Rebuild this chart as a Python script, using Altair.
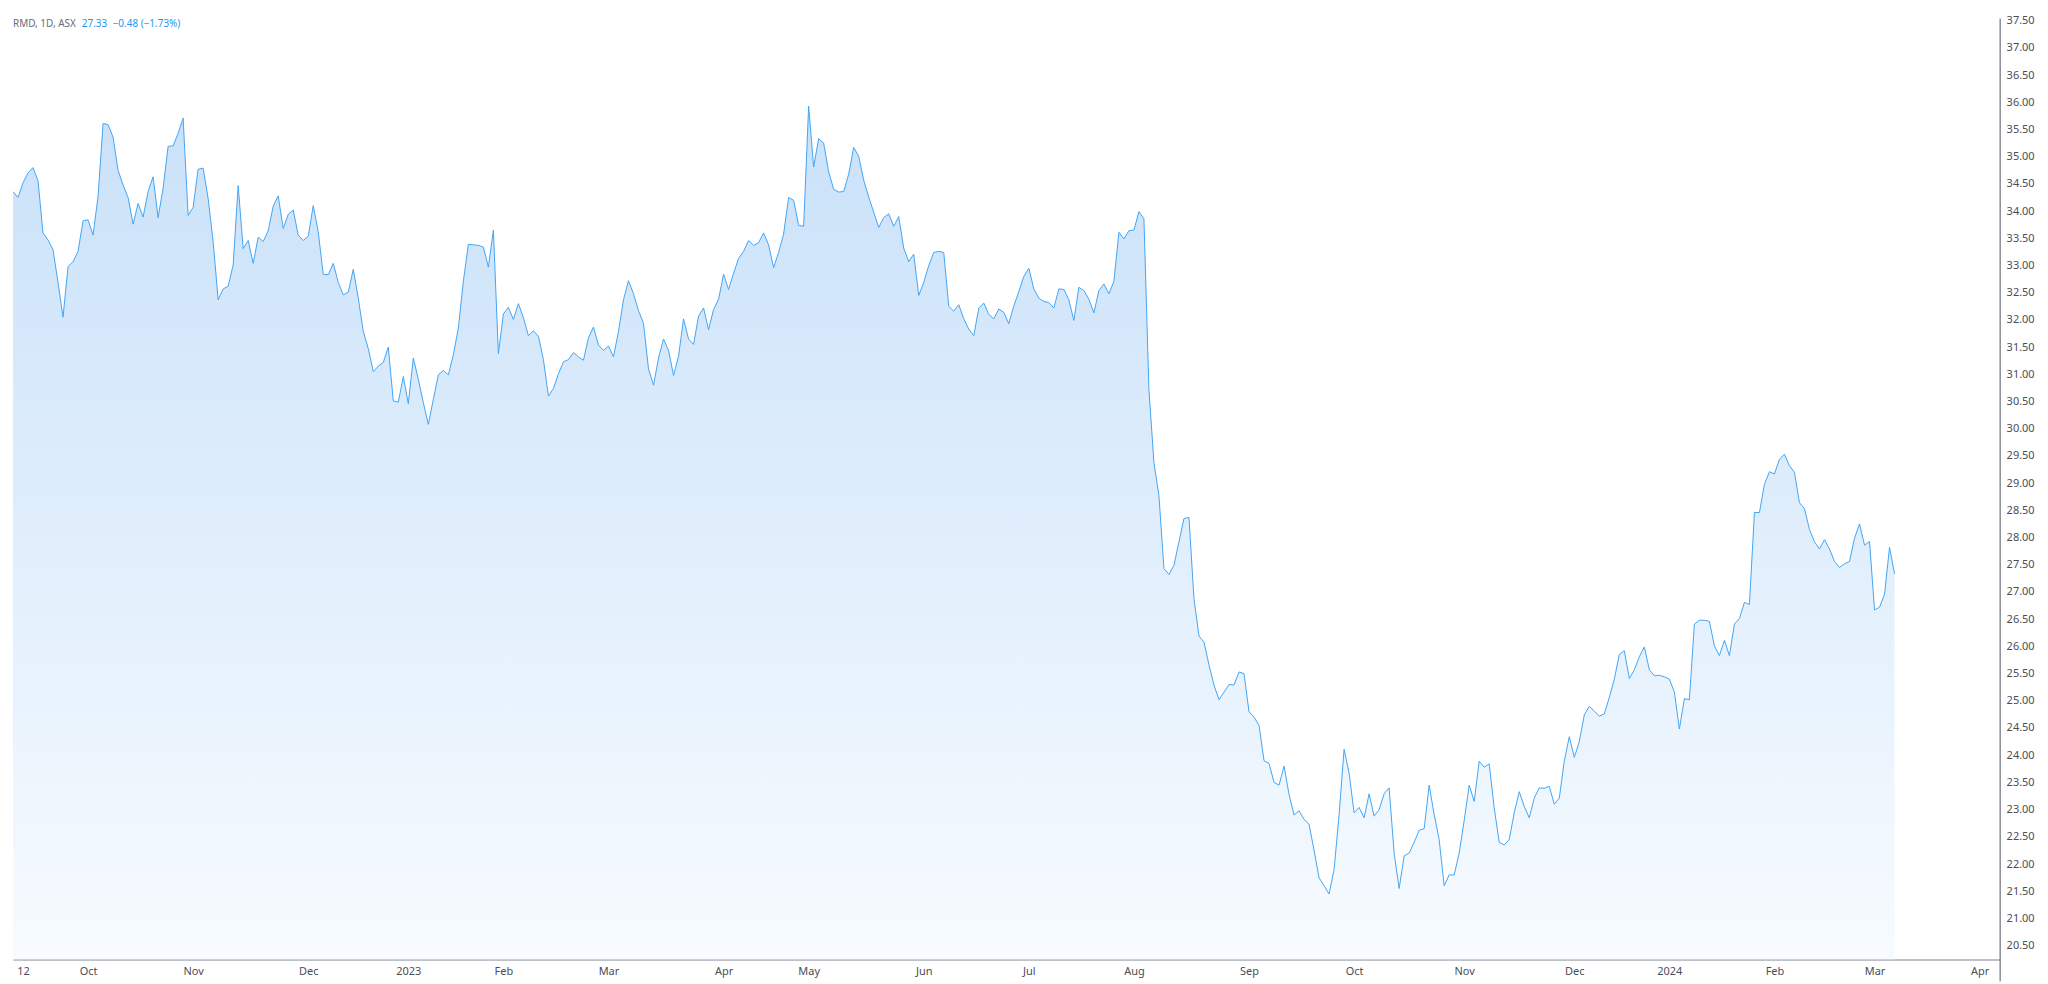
import altair as alt
import pandas as pd

# Daily closes (one value per trading bar)
seg_sep_dec_2022 = [
    34.36, 34.25, 34.52, 34.70, 34.80, 34.56, 33.60, 33.47, 33.29, 32.69,
    32.05, 32.98, 33.07, 33.26, 33.82, 33.84, 33.56, 34.27, 35.61, 35.59,
    35.36, 34.75, 34.48, 34.25, 33.76, 34.14, 33.89, 34.36, 34.63, 33.88,
    34.42, 35.19, 35.20, 35.43, 35.71, 33.92, 34.07, 34.77, 34.79, 34.23,
    33.44, 32.37, 32.57, 32.62, 33.01, 34.47, 33.31, 33.46, 33.04, 33.52,
    33.44, 33.64, 34.09, 34.28, 33.68, 33.94, 34.02, 33.56, 33.46, 33.54,
    34.10, 33.62, 32.84, 32.83, 33.04, 32.69,
]
seg_dec_2022_mar_2023 = [
    32.46, 32.51, 32.93, 32.40, 31.79, 31.47, 31.05, 31.15, 31.22, 31.50,
    30.51, 30.49, 30.96, 30.46, 31.30, 30.91, 30.48, 30.08, 30.54, 30.99,
    31.07, 30.99, 31.36, 31.85, 32.71, 33.39, 33.38, 33.37, 33.34, 32.97,
    33.65, 31.38, 32.11, 32.23, 32.01, 32.30, 32.04, 31.71, 31.80, 31.70,
    31.27, 30.60, 30.74, 31.01, 31.23, 31.27, 31.40, 31.32, 31.26, 31.67,
    31.87, 31.54, 31.44, 31.52, 31.32, 31.79, 32.37, 32.72, 32.48, 32.17,
    31.94, 31.10, 30.80, 31.30,
]
seg_mar_jun_2023 = [
    31.65, 31.44, 30.98, 31.33, 32.02, 31.65, 31.55, 32.07, 32.22, 31.82,
    32.19, 32.38, 32.84, 32.56, 32.86, 33.13, 33.26, 33.46, 33.37, 33.42,
    33.60, 33.38, 32.96, 33.24, 33.58, 34.25, 34.20, 33.74, 33.72, 35.93,
    34.81, 35.33, 35.25, 34.72, 34.40, 34.35, 34.36, 34.68, 35.17, 35.01,
    34.57, 34.26, 33.98, 33.70, 33.88, 33.95, 33.72, 33.90, 33.32, 33.07,
    33.21, 32.45, 32.69, 33.00, 33.24, 33.26, 33.24, 32.25, 32.16, 32.28,
    32.02, 31.83, 31.71, 32.22,
]
seg_jun_sep_2023 = [
    32.31, 32.10, 32.02, 32.20, 32.14, 31.93, 32.26, 32.52, 32.80, 32.95,
    32.57, 32.40, 32.34, 32.32, 32.22, 32.57, 32.56, 32.37, 31.99, 32.60,
    32.54, 32.38, 32.13, 32.54, 32.66, 32.48, 32.71, 33.61, 33.49, 33.64,
    33.65, 33.99, 33.86, 30.72, 29.38, 28.77, 27.43, 27.32, 27.49, 27.92,
    28.35, 28.37, 26.88, 26.19, 26.08, 25.66, 25.29, 25.02, 25.16, 25.30,
    25.29, 25.53, 25.50, 24.80,
]
seg_sep_dec_2023 = [
    24.70, 24.55, 23.90, 23.85, 23.50, 23.45, 23.80, 23.28, 22.90, 22.98,
    22.82, 22.73, 22.25, 21.75, 21.60, 21.45, 21.90, 22.90, 24.11, 23.67,
    22.94, 23.04, 22.85, 23.29, 22.88, 23.00, 23.29, 23.40, 22.20, 21.55,
    22.15, 22.20, 22.40, 22.62, 22.65, 23.45, 22.91, 22.45, 21.60, 21.80,
    21.80, 22.20, 22.80, 23.45, 23.15, 23.89, 23.78, 23.84, 23.03, 22.40,
    22.35, 22.45, 22.94, 23.33, 23.06, 22.85, 23.21, 23.40, 23.39, 23.43,
    23.10, 23.21, 23.89, 24.34, 23.96, 24.25, 24.74, 24.90, 24.81, 24.72,
    24.76,
]
seg_dec_2023_mar_2024 = [
    25.06, 25.40, 25.85, 25.92, 25.41, 25.57, 25.81, 25.99, 25.57, 25.46,
    25.47, 25.44, 25.40, 25.16, 24.48, 25.04, 25.02, 26.41, 26.48, 26.48,
    26.46, 26.01, 25.83, 26.11, 25.83, 26.41, 26.51, 26.81, 26.77, 28.46,
    28.46, 28.98, 29.21, 29.17, 29.44, 29.53, 29.32, 29.20, 28.64, 28.53,
    28.15, 27.92, 27.79, 27.96, 27.79, 27.56, 27.45, 27.52, 27.56, 27.99,
    28.25, 27.86, 27.93, 26.67, 26.72, 26.96, 27.82, 27.33,
]

# Time-axis labels, placed at the bar index of each month's first session
tick_bars = [2, 15, 36, 59, 79, 98, 119, 142, 159, 182, 203, 224, 247, 268,
             290, 312, 331, 352, 372, 393]
tick_labels = ["12", "Oct", "Nov", "Dec", "2023", "Feb", "Mar", "Apr", "May",
               "Jun", "Jul", "Aug", "Sep", "Oct", "Nov", "Dec", "2024", "Feb",
               "Mar", "Apr"]

price_ticks = [20.5, 21.0, 21.5, 22.0, 22.5, 23.0, 23.5, 24.0, 24.5, 25.0,
               25.5, 26.0, 26.5, 27.0, 27.5, 28.0, 28.5, 29.0, 29.5, 30.0,
               30.5, 31.0, 31.5, 32.0, 32.5, 33.0, 33.5, 34.0, 34.5, 35.0,
               35.5, 36.0, 36.5, 37.0, 37.5]

header_texts = ["RMD, 1D, ASX", "27.33", "\u22120.48 (\u22121.73%)"]
header_colors = ["#6a6d78", "#2196f3", "#2196f3"]
header_x = [0, 69, 100]

prices = (seg_sep_dec_2022 + seg_dec_2022_mar_2023 + seg_mar_jun_2023 +
          seg_jun_sep_2023 + seg_sep_dec_2023 + seg_dec_2023_mar_2024)

Y_MIN, Y_MAX = 20.247, 37.537
X_MAX = 397.1
W, H = 1994, 944
FONT = "Noto Sans"
LABEL_COLOR = "#4a4d57"

df = pd.DataFrame({"bar": list(range(len(prices))), "price": prices})
df["base"] = Y_MIN

bars_js = "[" + ",".join(str(b) for b in tick_bars) + "]"
labels_js = "[" + ",".join("'" + l + "'" for l in tick_labels) + "]"
label_expr = f"{labels_js}[indexof({bars_js}, datum.value)]"

x_enc = alt.X(
    "bar:Q",
    scale=alt.Scale(domain=[0, X_MAX], nice=False, zero=False),
    axis=alt.Axis(
        values=tick_bars, labelExpr=label_expr, title=None, grid=False,
        ticks=False, domainColor="#a9acb5", domainWidth=1.5,
        labelColor=LABEL_COLOR, labelFontSize=11, labelFont=FONT,
        labelPadding=6, labelFlush=False, labelOverlap=False,
        labelFontWeight=alt.condition(
            "datum.label == '2023' || datum.label == '2024'",
            alt.value(600), alt.value(400)),
    ),
)
y_enc = alt.Y(
    "price:Q",
    scale=alt.Scale(domain=[Y_MIN, Y_MAX], nice=False, zero=False),
    axis=alt.Axis(
        orient="right", values=price_ticks, format=".2f", title=None,
        grid=False, ticks=False, domain=False,
        labelColor=LABEL_COLOR, labelFontSize=11, labelFont=FONT,
        labelPadding=6, labelOverlap=False, labelFlush=False,
    ),
)

base = alt.Chart(df)
area = base.mark_area(
    clip=True,
    color=alt.Gradient(
        gradient="linear",
        stops=[alt.GradientStop(color="#c9e1f9", offset=0),
               alt.GradientStop(color="#f7fbff", offset=1)],
        x1=1, x2=1, y1=0, y2=1,
    ),
).encode(x=x_enc, y=y_enc, y2="base:Q")

line = base.mark_line(clip=True, color="#42a5f5", strokeWidth=1).encode(
    x=x_enc, y=y_enc
)

# right-hand price-scale border, running down through the time-axis row
border = alt.Chart(pd.DataFrame({"k": [0]})).mark_rule(
    color="#50535e", strokeWidth=1
).encode(x=alt.value(W), y=alt.value(0), y2=alt.value(H + 22))

hdr = pd.DataFrame({"t": header_texts, "c": header_colors, "px": header_x})
header = alt.Chart(hdr).mark_text(
    align="left", baseline="middle", font=FONT, fontSize=10
).encode(
    text="t:N",
    x=alt.X("px:Q", scale=None),
    y=alt.value(5),
    color=alt.Color("c:N", scale=None),
)

chart = alt.layer(area, line, border, header).properties(
    width=W, height=H, background="white"
).configure_view(strokeWidth=0)

chart.save("out.html", embed_options={"renderer": "svg", "actions": False})
